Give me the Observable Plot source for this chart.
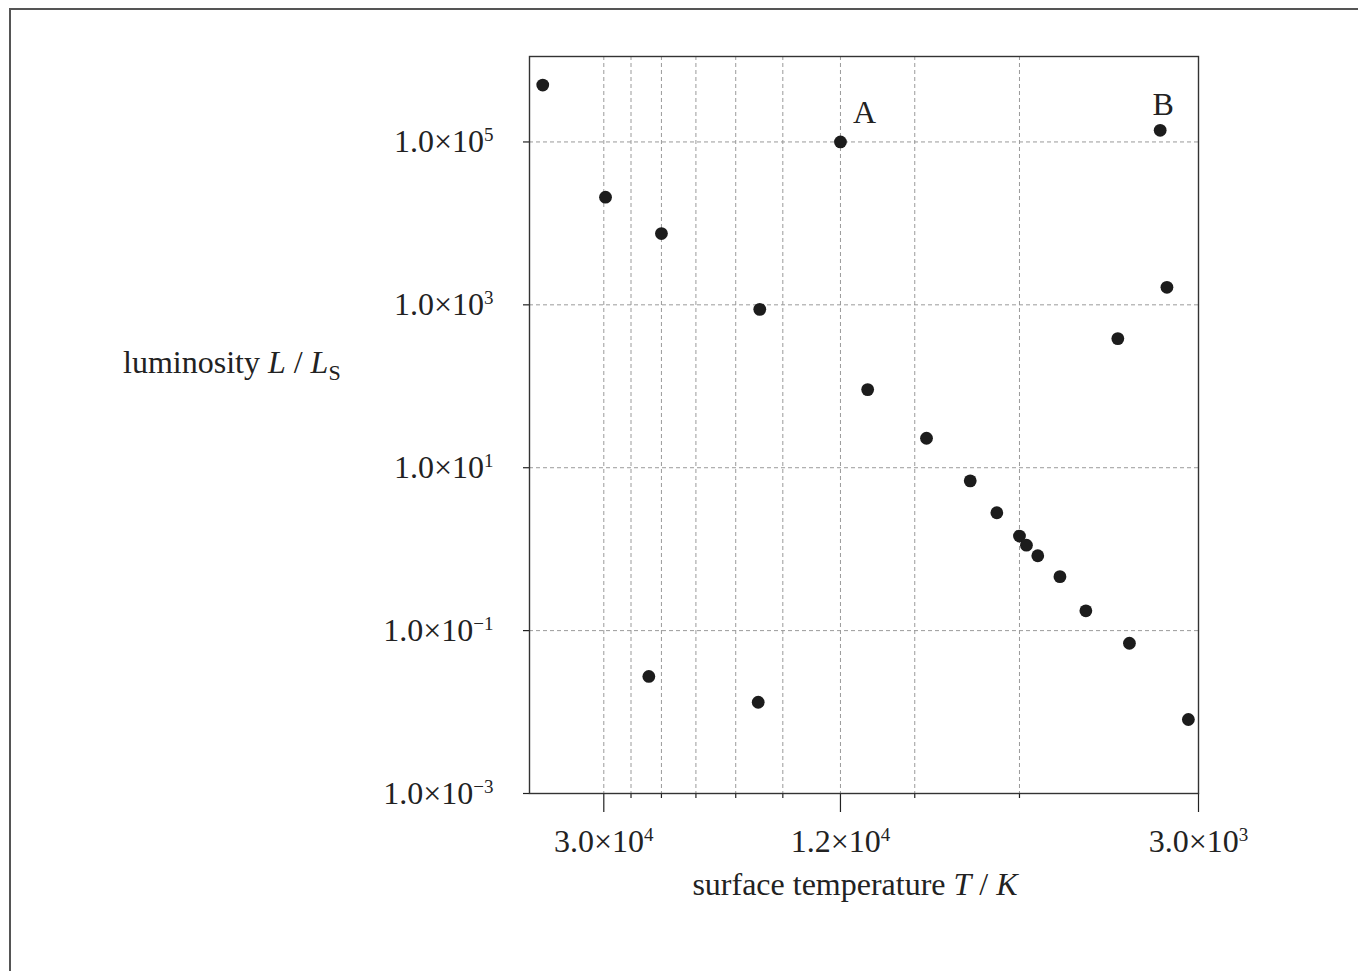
<!DOCTYPE html>
<html>
<head>
<meta charset="utf-8">
<script src="https://cdn.jsdelivr.net/npm/d3@7"></script>
<script src="https://cdn.jsdelivr.net/npm/@observablehq/plot@0.6"></script>
<style>
  html, body { margin: 0; padding: 0; background: #fff; }
  #chart svg { display: block; }
</style>
</head>
<body>
<div id="chart"></div>
<script>
// ---- data ----
const temperature = [38000, 29800, 24000, 16400, 12000, 10800, 8600, 7260, 6550, 6000, 5840, 5590, 5130, 4640, 3920, 3120, 3480, 3390, 4100, 25200, 16500];
const luminosity  = [5.0e5, 2.1e4, 7.5e3, 880, 1.0e5, 91, 23, 6.9, 2.8, 1.45, 1.12, 0.83, 0.46, 0.175, 0.070, 0.0081, 1.39e5, 1640, 385, 0.0274, 0.0132];

const starNames = ["A", "B"];
const starT = [12000, 3480];
const starL = [1.0e5, 1.39e5];

const xMajorTicks = [30000, 12000, 3000];
const xMinorTicks = [27000, 24000, 21000, 18000, 15000, 9000, 6000];
const xGrid = [30000, 27000, 24000, 21000, 18000, 15000, 12000, 9000, 6000];
const yTicks = [1e5, 1e3, 1e1, 1e-1, 1e-3];
const yGrid = [1e5, 1e3, 1e1, 1e-1];

const xTickLabels = ["3.0×10|4", "1.2×10|4", "3.0×10|3"];
const yTickLabels = ["1.0×10|5", "1.0×10|3", "1.0×10|1", "1.0×10|−1", "1.0×10|−3"];

const xLabelParts = ["surface temperature ", "T", " / ", "K"];
const yLabelParts = ["luminosity ", "L", " / ", "L", "S"];

// ---- build tables ----
const stars = temperature.map((t, i) => ({t, l: luminosity[i]}));
const named = starNames.map((n, i) => ({n, t: starT[i], l: starL[i]}));
const xFmt = d => xTickLabels[xMajorTicks.indexOf(d)];
const yFmt = d => yTickLabels[yTicks.indexOf(d)];

const FONT = "'Liberation Serif', 'Times New Roman', Times, serif";
const INK = "#222";
const GRID = { stroke: "#9a9a9a", strokeOpacity: 1, strokeWidth: 1, strokeDasharray: "4,3" };

const chart = Plot.plot({
  width: 1358,
  height: 971,
  marginLeft: 529,
  marginRight: 160,
  marginTop: 56,
  marginBottom: 178,
  style: { fontFamily: FONT, fontSize: "32px", color: INK, background: "#fff", overflow: "visible" },
  x: { type: "log", domain: [40000, 3000] },
  y: { type: "log", domain: [1e-3, 1.12e6] },
  marks: [
    Plot.gridX(xGrid, GRID),
    Plot.gridY(yGrid, GRID),
    Plot.axisX(xMinorTicks, { tickSize: 5, tickFormat: () => "", label: null, strokeWidth: 1.2 }),
    Plot.axisX(xMajorTicks, { tickSize: 19, tickPadding: 17, tickFormat: xFmt, label: null, fontSize: 32, strokeWidth: 1.2 }),
    Plot.axisY(yTicks, { tickSize: 6, tickPadding: 30, tickFormat: yFmt, label: null, fontSize: 32, strokeWidth: 1.2 }),
    Plot.frame({ stroke: "#333", strokeWidth: 1.4 }),
    Plot.dot(stars, { x: "t", y: "l", r: 6.4, fill: "#1c1c1c", stroke: "none" }),
    Plot.text(named.slice(0, 1), { x: "t", y: "l", text: "n", dx: 24, dy: -29, fontSize: 32, fill: INK }),
    Plot.text(named.slice(1), { x: "t", y: "l", text: "n", dx: 3, dy: -26, fontSize: 32, fill: INK })
  ]
});

document.getElementById("chart").appendChild(chart);

// ---- rich text for tick labels (superscript exponents) ----
const svg = d3.select(chart);
svg.selectAll("text").each(function () {
  const t = d3.select(this);
  const content = this.textContent;
  if (!content.includes("|")) return;
  const [base, exp] = content.split("|");
  t.text(null);
  t.append("tspan").text(base);
  t.append("tspan").attr("font-size", 19).attr("dy", -11).text(exp);
});

// ---- axis titles ----
const yTitle = svg.append("text")
  .attr("x", 123).attr("y", 373).attr("text-anchor", "start")
  .attr("font-family", FONT).attr("font-size", 32).attr("fill", INK);
yTitle.append("tspan").text(yLabelParts[0]);
yTitle.append("tspan").attr("font-style", "italic").text(yLabelParts[1]);
yTitle.append("tspan").text(yLabelParts[2]);
yTitle.append("tspan").attr("font-style", "italic").text(yLabelParts[3]);
yTitle.append("tspan").attr("font-size", 22).attr("dy", 7).text(yLabelParts[4]);

const xTitle = svg.append("text")
  .attr("x", 855).attr("y", 895).attr("text-anchor", "middle")
  .attr("font-family", FONT).attr("font-size", 32).attr("fill", INK);
xTitle.append("tspan").text(xLabelParts[0]);
xTitle.append("tspan").attr("font-style", "italic").text(xLabelParts[1]);
xTitle.append("tspan").text(xLabelParts[2]);
xTitle.append("tspan").attr("font-style", "italic").text(xLabelParts[3]);

// ---- outer border (top and left edges visible in the reference) ----
svg.append("path")
  .attr("d", "M10,971 V9 H1358")
  .attr("fill", "none").attr("stroke", "#555").attr("stroke-width", 2);
</script>
</body>
</html>
